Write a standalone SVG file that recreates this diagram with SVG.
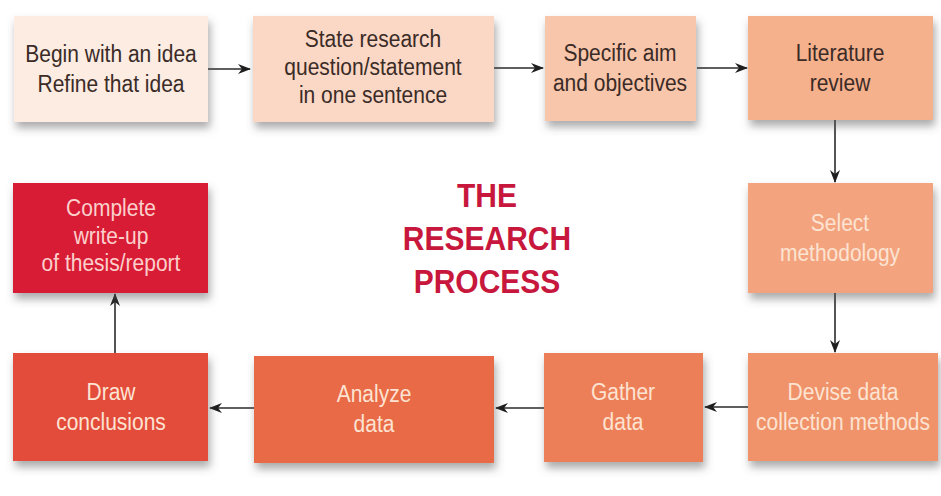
<svg xmlns="http://www.w3.org/2000/svg" width="941" height="496" viewBox="0 0 941 496">
<style>
.box{filter:url(#sh)}
.t{font-family:"Liberation Sans",Arial,sans-serif;font-size:21px;text-anchor:middle}
.dk{fill:#3b2b27}
.lt{fill:#fde3d2}
.title{font-family:"Liberation Sans",Arial,sans-serif;font-size:30px;font-weight:bold;fill:#c8173c;text-anchor:middle}
.c{stroke:#2a2a2a;stroke-width:1.6;fill:none;marker-end:url(#ah)}
</style>
<defs>
<filter id="sh" x="-10%" y="-10%" width="125%" height="135%">
<feDropShadow dx="2" dy="6" stdDeviation="4" flood-color="#555" flood-opacity="0.5"/>
</filter>
<marker id="ah" markerWidth="13" markerHeight="10" refX="12" refY="5" orient="auto" markerUnits="userSpaceOnUse">
<path d="M0,0 L13,5 L0,10 L4,5 z" fill="#1e1e1e"/>
</marker>
</defs>
<rect width="941" height="496" fill="#ffffff"/>

<g id="connectors">
<path class="c" d="M208,69 L250,69"/>
<path class="c" d="M494,68 L543,68"/>
<path class="c" d="M697,68 L747,68"/>
<path class="c" d="M835,120 L835,182"/>
<path class="c" d="M835,293 L835,352"/>
<path class="c" d="M748,407 L705,407"/>
<path class="c" d="M544,408 L496,408"/>
<path class="c" d="M254,408 L210,408"/>
<path class="c" d="M115,354 L115,294"/>
</g>

<g id="n1">
<rect class="box" x="14" y="16" width="194" height="106" fill="#fcece2"/>
<text class="t dk" transform="translate(111,69) scale(1,1.13)"><tspan x="0" y="-6.2">Begin with an idea</tspan><tspan x="0" y="20.4">Refine that idea</tspan></text>
</g>
<g id="n2">
<rect class="box" x="253" y="16" width="241" height="106" fill="#fad8c5"/>
<text class="t dk" transform="translate(373,69) scale(1,1.13)"><tspan x="0" y="-19.5">State research</tspan><tspan x="0" y="5.3">question/statement</tspan><tspan x="0" y="30.1">in one sentence</tspan></text>
</g>
<g id="n3">
<rect class="box" x="545" y="16" width="151" height="105" fill="#f8c6aa"/>
<text class="t dk" transform="translate(620,68) scale(1,1.13)"><tspan x="0" y="-6.2">Specific aim</tspan><tspan x="0" y="20.4">and objectives</tspan></text>
</g>
<g id="n4">
<rect class="box" x="748" y="16" width="185" height="104" fill="#f5b08c"/>
<text class="t dk" transform="translate(840,68) scale(1,1.13)"><tspan x="0" y="-6.2">Literature</tspan><tspan x="0" y="20.4">review</tspan></text>
</g>
<g id="n5">
<rect class="box" x="748" y="183" width="185" height="110" fill="#f3a47f"/>
<text class="t lt" transform="translate(840,238) scale(1,1.13)"><tspan x="0" y="-6.2">Select</tspan><tspan x="0" y="20.4">methodology</tspan></text>
</g>
<g id="n6">
<rect class="box" x="748" y="353" width="190" height="108" fill="#f0936a"/>
<text class="t lt" transform="translate(843,407) scale(1,1.13)"><tspan x="0" y="-6.2">Devise data</tspan><tspan x="0" y="20.4">collection methods</tspan></text>
</g>
<g id="n7">
<rect class="box" x="544" y="353" width="159" height="109" fill="#ed7f58"/>
<text class="t lt" transform="translate(623,407) scale(1,1.13)"><tspan x="0" y="-6.2">Gather</tspan><tspan x="0" y="20.4">data</tspan></text>
</g>
<g id="n8">
<rect class="box" x="254" y="356" width="240" height="107" fill="#e86b46"/>
<text class="t lt" transform="translate(374,409) scale(1,1.13)"><tspan x="0" y="-6.2">Analyze</tspan><tspan x="0" y="20.4">data</tspan></text>
</g>
<g id="n9">
<rect class="box" x="13" y="353" width="195" height="108" fill="#e34b3a"/>
<text class="t lt" transform="translate(111,407) scale(1,1.13)"><tspan x="0" y="-6.2">Draw</tspan><tspan x="0" y="20.4">conclusions</tspan></text>
</g>
<g id="n10">
<rect class="box" x="13" y="183" width="195" height="110" fill="#d91c36"/>
<text class="t" fill="#fbd0cc" transform="translate(111,238) scale(1,1.13)"><tspan x="0" y="-19.5">Complete</tspan><tspan x="0" y="4.9">write-up</tspan><tspan x="0" y="29.6">of thesis/report</tspan></text>
</g>

<g id="title">
<text class="title" transform="translate(487,0) scale(1,1.1)"><tspan x="0" y="188.2">THE</tspan><tspan x="0" y="227.3">RESEARCH</tspan><tspan x="0" y="266.4">PROCESS</tspan></text>
</g>
</svg>
